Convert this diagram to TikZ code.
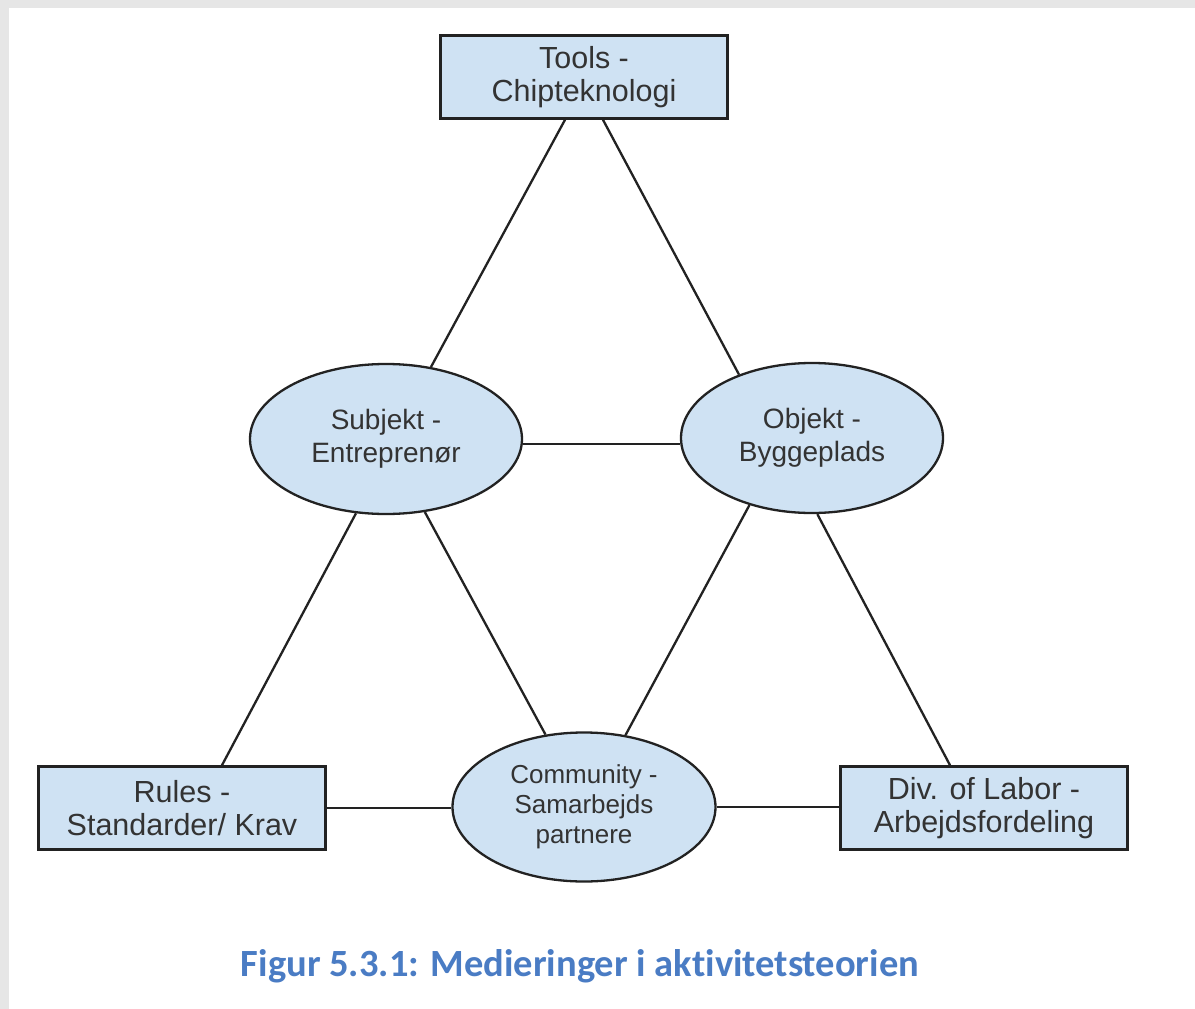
\documentclass[tikz,border=0pt]{standalone}
\usepackage{fontspec}
\setmainfont{Liberation Sans}
\newfontfamily\capfont[Ligatures={NoCommon}]{Carlito}
\usetikzlibrary{shapes.geometric}
\definecolor{boxfill}{HTML}{CFE2F3}
\definecolor{edgecol}{HTML}{222222}
\definecolor{txtcol}{HTML}{333333}
\definecolor{capcol}{HTML}{4A7CC4}
\definecolor{framegray}{HTML}{E6E6E6}
\begin{document}
\begin{tikzpicture}[x=1pt,y=-1pt,
  boxnode/.style={draw=edgecol, line width=2.6pt, fill=boxfill, rectangle, inner sep=0pt,
    minimum width=287pt, minimum height=83pt, align=center, text=txtcol,
    font=\fontsize{30.5}{33}\selectfont},
  ellnode/.style={draw=edgecol, line width=2.3pt, fill=boxfill, ellipse, inner sep=0pt,
    align=center, text=txtcol, font=\fontsize{28}{33}\selectfont},
  conn/.style={draw=edgecol, line width=2.3pt}]
\fill[framegray] (0,0) rectangle (1195,1009);
\fill[white] (9,8) rectangle (1195,1009);
\useasboundingbox (0,0) rectangle (1195,1009);

\node[boxnode] (tools) at (584,77) {Tools -\\Chipteknologi};
\node[ellnode, minimum width=272pt, minimum height=150pt] (subj) at (386,439) {Subjekt -\\Entreprenør};
\node[ellnode, minimum width=262pt, minimum height=150pt] (obj) at (812,438) {Objekt -\\Byggeplads};
\node[boxnode] (rules) at (182,808) {Rules -\\Standarder/ Krav};
\node[ellnode, minimum width=263pt, minimum height=149pt, font=\fontsize{26}{30}\selectfont] (comm) at (584,807) {Community -\\Samarbejds\\partnere};
\node[boxnode] (div) at (984,808) {Div. of Labor -\\Arbejdsfordeling};

\draw[conn] ([xshift=-19pt]tools.south) -- (subj.58);
\draw[conn] ([xshift=19pt]tools.south) -- (obj.139);
\draw[conn] (subj.-2) -- (subj.-2 -| obj.west);
\draw[conn] (subj.248) -- (rules.north -| 222,0);
\draw[conn] (subj.298) -- (comm.118);
\draw[conn] (obj.227) -- (comm.60);
\draw[conn] (obj.274) -- (div.north -| 950,0);
\draw[conn] (rules.east) -- (rules.east -| comm.west);
\draw[conn] (comm.east) -- (comm.east -| div.west);

\node[anchor=base, text=capcol, font=\capfont\bfseries\fontsize{38.5}{40}\selectfont] (cap) at (580,976) {Figur 5.3.1: Medieringer i aktivitetsteorien};
\end{tikzpicture}
\end{document}
